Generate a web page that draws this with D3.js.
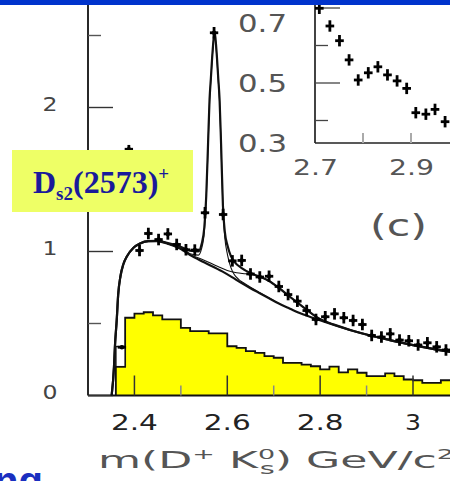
<!DOCTYPE html>
<html><head><meta charset="utf-8">
<script src="https://cdn.jsdelivr.net/npm/d3@7"></script>
<style>body{margin:0;background:#fff}svg{display:block}</style>
</head><body>
<svg id="c" width="450" height="481"></svg>
<script>
// ---------- data ----------
const dataMass  = [2.373,2.388,2.411,2.430,2.452,2.472,2.491,2.511,2.530,2.552,2.5715,2.591,2.611,2.631,2.650,2.670,2.690,2.711,2.731,2.751,2.771,2.791,2.811,2.831,2.851,2.871,2.891,2.911,2.932,2.951,2.971,2.991,3.011,3.031,3.051,3.071];
const dataValue = [0.335,1.71,1.007,1.125,1.083,1.122,1.049,1.012,1.010,1.269,2.519,1.257,0.935,0.938,0.844,0.823,0.828,0.757,0.701,0.655,0.590,0.528,0.547,0.567,0.540,0.521,0.493,0.417,0.406,0.428,0.385,0.380,0.351,0.366,0.338,0.316];
const dataErr   = [0.01,0.03,0.04,0.04,0.04,0.04,0.04,0.04,0.04,0.04,0.04,0.04,0.04,0.04,0.04,0.04,0.04,0.04,0.04,0.04,0.04,0.04,0.04,0.04,0.04,0.04,0.04,0.04,0.04,0.04,0.04,0.04,0.04,0.04,0.04,0.04];

const histEdges  = [2.36,2.38,2.40,2.42,2.44,2.46,2.48,2.50,2.52,2.54,2.56,2.58,2.60,2.62,2.64,2.66,2.68,2.70,2.72,2.74,2.76,2.78,2.80,2.82,2.84,2.86,2.88,2.90,2.92,2.94,2.96,2.98,3.00,3.02,3.04,3.06,3.08];
const histValues = [0.20,0.540,0.569,0.578,0.556,0.528,0.528,0.470,0.447,0.447,0.431,0.431,0.342,0.331,0.308,0.296,0.273,0.262,0.227,0.227,0.215,0.203,0.181,0.201,0.160,0.181,0.158,0.134,0.134,0.153,0.134,0.111,0.106,0.088,0.088,0.106,0.106];
const histEnd = 3.10;
const openBin = [2.36, 2.38];
const openBinRange = [0.20, 0.34];

const bkgMass  = [2.351,2.356,2.358,2.362,2.365,2.370,2.376,2.384,2.398,2.412,2.430,2.448,2.470,2.498,2.520,2.550,2.590,2.610,2.630,2.650,2.670,2.690,2.710,2.735,2.760,2.790,2.830,2.870,2.910,2.950,3.000,3.040,3.085];
const bkgValue = [0.0,0.20,0.34,0.53,0.70,0.83,0.91,0.967,1.026,1.056,1.072,1.072,1.056,1.020,0.975,0.925,0.860,0.822,0.782,0.745,0.710,0.675,0.640,0.603,0.567,0.533,0.490,0.450,0.415,0.385,0.350,0.325,0.300];

const totalMass  = [2.351,2.356,2.358,2.362,2.365,2.370,2.376,2.384,2.398,2.412,2.430,2.448,2.470,2.498,2.520,2.5376,2.5446,2.5506,2.5546,2.5586,2.5618,2.5646,2.5686,2.5726,2.5766,2.5806,2.5834,2.5866,2.5906,2.5946,2.6006,2.6076,2.615,2.631,2.650,2.670,2.690,2.710,2.730,2.750,2.770,2.790,2.810,2.830,2.870,2.910,2.950,3.000,3.040,3.085];
const totalValue = [0.0,0.20,0.34,0.53,0.70,0.83,0.91,0.967,1.026,1.056,1.072,1.074,1.060,1.035,1.005,1.000,1.050,1.170,1.380,1.750,2.056,2.200,2.400,2.530,2.400,2.200,2.056,1.750,1.320,1.140,1.040,0.970,0.930,0.885,0.850,0.825,0.795,0.750,0.698,0.648,0.598,0.550,0.515,0.492,0.450,0.415,0.385,0.350,0.325,0.300];

const bkgS1Mass  = [2.470,2.500,2.520,2.5376,2.5446,2.5506,2.5546,2.5586,2.5618,2.5646,2.5686,2.5726,2.5766,2.5806,2.5834,2.5866,2.5906,2.5946,2.6006,2.6076,2.615,2.625,2.634,2.650,2.670,2.690,2.710];
const bkgS1Value = [1.056,1.020,0.985,0.975,1.020,1.140,1.360,1.730,2.040,2.190,2.390,2.520,2.390,2.190,2.040,1.740,1.300,1.100,0.975,0.890,0.840,0.805,0.785,0.752,0.714,0.677,0.641];

const bkgS2Mass  = [2.470,2.500,2.520,2.550,2.580,2.600,2.620,2.640,2.660,2.690,2.710,2.730,2.750,2.770,2.790,2.810,2.830];
const bkgS2Value = [1.056,1.022,0.980,0.940,0.895,0.868,0.852,0.845,0.836,0.795,0.750,0.698,0.648,0.598,0.550,0.515,0.492];

const xMajorTicks = [2.4,2.6,2.8,3.0];
const xMinorTicks = [2.5,2.7,2.9];
const xTickLabels = ["2.4","2.6","2.8","3"];
const yMajorTicks = [0,1,2];
const yMinorTicks = [0.5,1.5,2.5];
const yTickLabels = ["0","1","2"];

const insetMass  = [2.709,2.731,2.751,2.771,2.790,2.811,2.831,2.851,2.871,2.891,2.910,2.931,2.950,2.971];
const insetValue = [0.749,0.690,0.641,0.577,0.510,0.534,0.554,0.527,0.507,0.482,0.401,0.396,0.412,0.371];
const insetYTicksLong  = [0.5,0.75];
const insetYTicksShort = [0.375,0.625];
const insetYLabels = [0.3,0.5,0.7];
const insetXTicks = [2.8,2.9];
const insetXLabels = [2.7,2.9];

// ---------- scales ----------
const svg = d3.select("#c");
const x = d3.scaleLinear().domain([2.3, 3.0]).range([88, 413]);
const y = d3.scaleLinear().domain([0, 2]).range([395.5, 107.5]);
const xi = d3.scaleLinear().domain([2.7, 2.9]).range([315, 411]);
const yi = d3.scaleLinear().domain([0.3, 0.7]).range([143, 23]);

// ---------- histogram ----------
const histPts = histEdges.map((e,i)=>[e, histValues[i]]).concat([[histEnd, histValues[histValues.length-1]]]);
svg.append("path")
  .attr("d", d3.area().x(d=>x(d[0])).y0(y(0)).y1(d=>y(d[1])).curve(d3.curveStepAfter)(histPts))
  .attr("fill", "#ffff00");
svg.append("path")
  .attr("d", d3.line().x(d=>x(d[0])).y(d=>y(d[1])).curve(d3.curveStepAfter)([[histEdges[0],0]].concat(histPts)))
  .attr("fill", "none").attr("stroke", "#111").attr("stroke-width", 1.8);
svg.append("rect")
  .attr("x", x(openBin[0])).attr("width", x(openBin[1]) - x(openBin[0]))
  .attr("y", y(openBinRange[1])).attr("height", y(openBinRange[0]) - y(openBinRange[1]))
  .attr("fill", "#fff").attr("stroke", "#111").attr("stroke-width", 1.5);

// ---------- axes ----------
svg.append("line").attr("x1", 88).attr("x2", 450).attr("y1", y(0)).attr("y2", y(0)).attr("stroke", "#111").attr("stroke-width", 1.8);
svg.append("line").attr("x1", 88).attr("x2", 88).attr("y1", 0).attr("y2", y(0)).attr("stroke", "#111").attr("stroke-width", 1.8);
svg.selectAll(".xM").data(xMajorTicks).join("line")
  .attr("x1", d=>x(d)).attr("x2", d=>x(d)).attr("y1", y(0)).attr("y2", y(0)-20)
  .attr("stroke", "#333").attr("stroke-width", 1.5);
svg.selectAll(".xm").data(xMinorTicks).join("line")
  .attr("x1", d=>x(d)).attr("x2", d=>x(d)).attr("y1", y(0)).attr("y2", y(0)-10)
  .attr("stroke", "#888").attr("stroke-width", 1.5);
svg.selectAll(".yM").data(yMajorTicks).join("line")
  .attr("x1", 88).attr("x2", 113).attr("y1", d=>y(d)).attr("y2", d=>y(d))
  .attr("stroke", "#333").attr("stroke-width", 1.4);
svg.selectAll(".ym").data(yMinorTicks).join("line")
  .attr("x1", 88).attr("x2", 101).attr("y1", d=>y(d)).attr("y2", d=>y(d))
  .attr("stroke", "#555").attr("stroke-width", 1.4);

// ---------- curves ----------
function drawCurve(mass, val, w) {
  svg.append("path")
    .attr("d", d3.line().x((d,i)=>x(mass[i])).y((d,i)=>y(val[i])).curve(d3.curveMonotoneX)(mass))
    .attr("fill", "none").attr("stroke", "#111").attr("stroke-width", w);
}
drawCurve(bkgS1Mass, bkgS1Value, 1.1);
drawCurve(bkgS2Mass, bkgS2Value, 1.1);
drawCurve(bkgMass, bkgValue, 2.2);
drawCurve(totalMass, totalValue, 2.2);

// ---------- data points ----------
const pts = svg.append("g").attr("stroke", "#000").attr("stroke-width", 2.8);
dataMass.forEach((m,i)=>{
  pts.append("line").attr("x1", x(m-0.009)).attr("x2", x(m+0.009)).attr("y1", y(dataValue[i])).attr("y2", y(dataValue[i]));
  pts.append("line").attr("x1", x(m)).attr("x2", x(m)).attr("y1", y(dataValue[i]-dataErr[i])).attr("y2", y(dataValue[i]+dataErr[i]));
  pts.append("circle").attr("cx", x(m)).attr("cy", y(dataValue[i])).attr("r", 2.2).attr("fill", "#000").attr("stroke", "none");
});

// ---------- inset ----------
svg.append("line").attr("x1", 315).attr("x2", 315).attr("y1", 0).attr("y2", yi(0.3)).attr("stroke", "#222").attr("stroke-width", 1.7);
svg.append("line").attr("x1", 315).attr("x2", 450).attr("y1", yi(0.3)).attr("y2", yi(0.3)).attr("stroke", "#222").attr("stroke-width", 1.7);
svg.selectAll(".iyL").data(insetYTicksLong).join("line")
  .attr("x1", 315).attr("x2", 340).attr("y1", d=>yi(d)).attr("y2", d=>yi(d)).attr("stroke", "#444").attr("stroke-width", 1.3);
svg.selectAll(".iyS").data(insetYTicksShort).join("line")
  .attr("x1", 315).attr("x2", 328).attr("y1", d=>yi(d)).attr("y2", d=>yi(d)).attr("stroke", "#444").attr("stroke-width", 1.3);
svg.selectAll(".ix").data(insetXTicks).join("line")
  .attr("x1", d=>xi(d)).attr("x2", d=>xi(d)).attr("y1", yi(0.3)).attr("y2", yi(0.3)-10).attr("stroke", "#aaa").attr("stroke-width", 2);
const ipts = svg.append("g").attr("stroke", "#000").attr("stroke-width", 2.8);
insetMass.forEach((m,i)=>{
  ipts.append("line").attr("x1", xi(m-0.009)).attr("x2", xi(m+0.009)).attr("y1", yi(insetValue[i])).attr("y2", yi(insetValue[i]));
  ipts.append("line").attr("x1", xi(m)).attr("x2", xi(m)).attr("y1", yi(insetValue[i]-0.019)).attr("y2", yi(insetValue[i]+0.019));
});
svg.selectAll(".iyl").data(insetYLabels).join("text")
  .attr("x", 238).attr("y", d=>yi(d)+8.5).text(d=>d.toFixed(1))
  .attr("font-family", "DejaVu Sans").attr("font-size", 24).attr("fill", "#555")
  .attr("textLength", 49).attr("lengthAdjust", "spacingAndGlyphs");
svg.selectAll(".ixl").data(insetXLabels).join("text")
  .attr("x", d=>xi(d)-22).attr("y", 175).text(d=>d.toFixed(1))
  .attr("font-family", "DejaVu Sans").attr("font-size", 21).attr("fill", "#555")
  .attr("textLength", 45).attr("lengthAdjust", "spacingAndGlyphs");

// ---------- tick labels ----------
svg.selectAll(".xl").data(xMajorTicks).join("text")
  .attr("x", d=>x(d)).attr("y", 430).attr("text-anchor", "middle").text((d,i)=>xTickLabels[i])
  .attr("font-family", "DejaVu Sans").attr("font-size", 21).attr("fill", "#222")
  .attr("textLength", (d,i)=>xTickLabels[i].length>1?47:16).attr("lengthAdjust", "spacingAndGlyphs");
svg.selectAll(".yl").data(yMajorTicks).join("text")
  .attr("x", 50).attr("y", d=>y(d)+3).attr("text-anchor", "middle").text((d,i)=>yTickLabels[i])
  .attr("font-family", "DejaVu Sans").attr("font-size", 19).attr("fill", "#444")
  .attr("textLength", 15).attr("lengthAdjust", "spacingAndGlyphs");

// ---------- x title ----------
const xt = svg.append("text").attr("x", 98).attr("y", 468)
  .attr("font-family", "DejaVu Sans").attr("font-size", 23).attr("fill", "#555")
  .attr("textLength", 356).attr("lengthAdjust", "spacingAndGlyphs");
xt.append("tspan").text("m(D");
xt.append("tspan").attr("font-size", 14).attr("dy", -9).text("+");
xt.append("tspan").attr("dy", 9).text(" K");
xt.append("tspan").attr("font-size", 14).attr("dy", -9).text("0");
xt.append("tspan").attr("font-size", 15).attr("dy", 15).attr("dx", -8).text("s");
xt.append("tspan").attr("dy", -6).text(") GeV/c");
xt.append("tspan").attr("font-size", 14).attr("dy", -9).text("2");

// ---------- (c) ----------
svg.append("text").attr("x", 370).attr("y", 236).text("(c)")
  .attr("font-family", "DejaVu Sans").attr("font-size", 30).attr("fill", "#555")
  .attr("textLength", 57).attr("lengthAdjust", "spacingAndGlyphs");

// ---------- label box ----------
svg.append("rect").attr("x", 12).attr("y", 150).attr("width", 181).attr("height", 62).attr("fill", "#eeff66");
const lb = svg.append("text").attr("x", 33).attr("y", 193)
  .attr("font-family", "Liberation Serif").attr("font-weight", "bold").attr("font-size", 32).attr("fill", "#1a1a9a");
lb.append("tspan").text("D");
lb.append("tspan").attr("font-size", 19).attr("dy", 7).text("s2");
lb.append("tspan").attr("dy", -7).text("(2573)");
lb.append("tspan").attr("font-size", 19).attr("dy", -13).text("+");

// ---------- slide decorations ----------
svg.append("rect").attr("x", 0).attr("y", 0).attr("width", 450).attr("height", 5).attr("fill", "#0033cc");
svg.append("text").attr("x", -6).attr("y", 495).text("ng")
  .attr("font-family", "Liberation Sans").attr("font-weight", "bold").attr("font-size", 40).attr("fill", "#1a2fc0");
</script></body></html>
